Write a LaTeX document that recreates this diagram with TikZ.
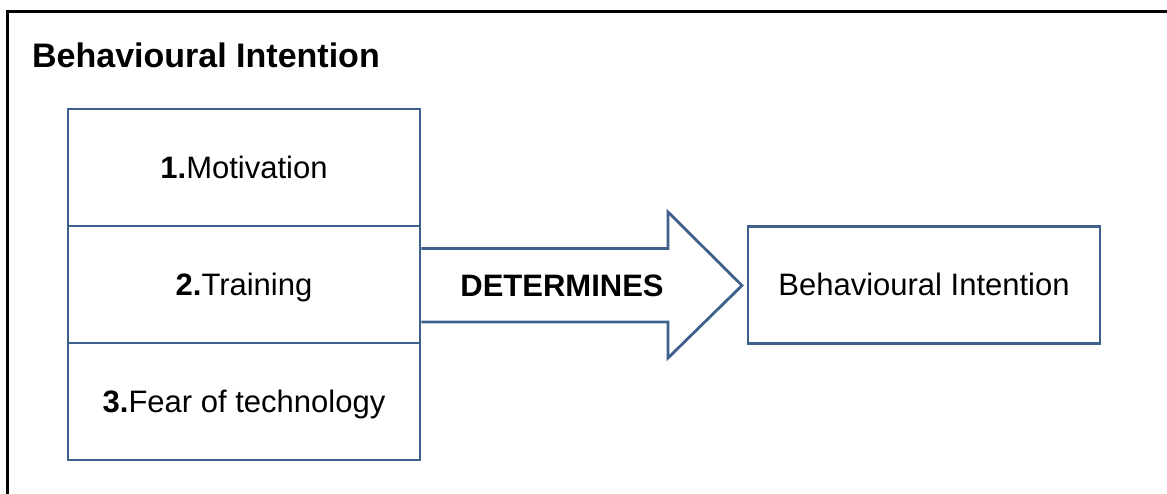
\documentclass[tikz,border=0pt]{standalone}
\usepackage{fontspec}
\setmainfont{Liberation Sans}
\begin{document}
\definecolor{boxblue}{RGB}{62,96,140}
\begin{tikzpicture}[x=1pt,y=-1pt,
  txt/.style={font=\fontsize{31}{37}\selectfont, inner sep=0pt, text height=22pt, text depth=0pt},
  cell/.style={draw=boxblue, line width=2.8pt, minimum width=352pt, minimum height=117pt, inner sep=0pt,
    text height=22pt, text depth=0pt, font=\fontsize{31}{37}\selectfont},
  outline/.style={draw=boxblue, line width=2.8pt, line join=miter}]
\useasboundingbox (0,0) rectangle (1167,494);
% outer frame, running off the right and bottom edges
\draw[line width=3pt] (7.5,500) -- (7.5,12) -- (1175,12);
\node[anchor=base west, inner sep=0pt, font=\bfseries\fontsize{34}{40}\selectfont] (title) at (32,68) {Behavioural Intention};
% factor column
\node[cell] (m) at (244,167.5) {\textbf{1.}Motivation};
\node[cell] (t) at (244,284.5) {\textbf{2.}Training};
\node[cell] (f) at (244,401.5) {\textbf{3.}Fear of technology};
% block arrow
\draw[outline] (t.east |- 0,248.5) -- (668,248.5) -- (668,212) -- (742,285.5)
  -- (668,358) -- (668,322) -- (t.east |- 0,322);
\node[txt, font=\bfseries\fontsize{31}{37}\selectfont] (det) at (562,285.5) {DETERMINES};
% outcome
\node[cell] (bi) at (924,285) {Behavioural Intention};
\end{tikzpicture}
\end{document}
